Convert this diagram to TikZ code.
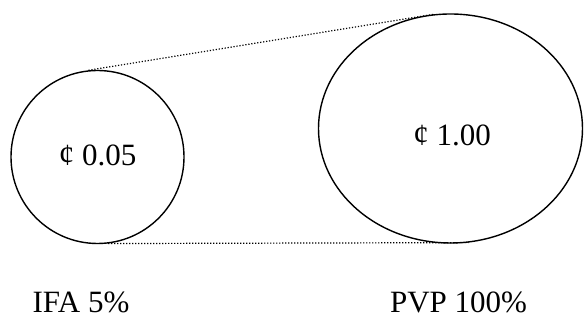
\documentclass[tikz,border=0pt]{standalone}
\usepackage{fontspec}
\setmainfont{Liberation Serif}
\usetikzlibrary{shapes}

\begin{document}
\begin{tikzpicture}[x=1pt, y=-1pt,
	coin/.style={draw, line width=1.4pt, inner sep=0pt},
	label/.style={font=\fontsize{31}{37}\selectfont, anchor=base, inner sep=0pt, text depth=0pt}]
	\useasboundingbox (0,0) rectangle (584,320);
	
	% Circles
	\node[coin, circle, minimum size=173pt] (ifa) at (97.5,157) {};
	\node[coin, ellipse, minimum width=264pt, minimum height=229pt] (pvp) at (450.5,128.5) {};
	
	% Values
	\node[label] (ifaval) at (97.5,166) {¢ 0.05};
	\node[label] (pvpval) at (452,146) {¢ 1.00};
	
	% Dotted tangents
	\draw[line width=1.2pt, dash pattern=on 1.2pt off 1.8pt] (ifa.96) -- (pvp.98);
	\draw[line width=1.2pt, dash pattern=on 1.2pt off 1.8pt] (ifa.-83) -- (pvp.-81);
	
	% Labels
	\node[label] (ifalbl) at (81,313) {IFA 5\%};
	\node[label] (pvplbl) at (458.5,313) {PVP 100\%};
	
\end{tikzpicture}
\end{document}
